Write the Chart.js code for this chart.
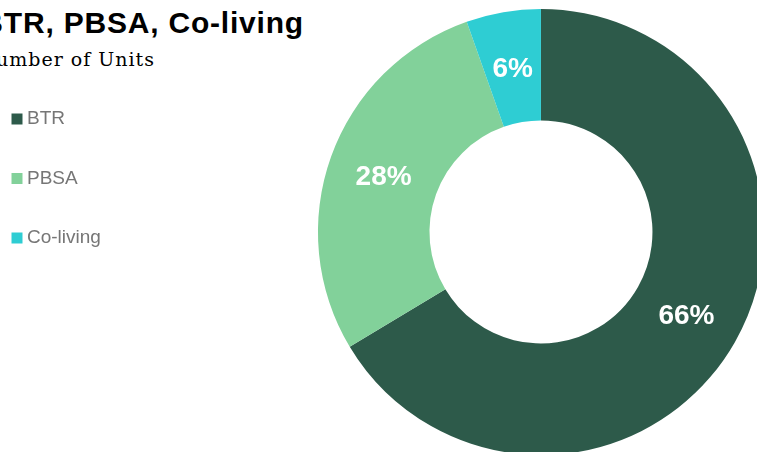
<!DOCTYPE html>
<html>
<head>
<meta charset="utf-8">
<script src="https://cdn.jsdelivr.net/npm/chart.js@4.4.1/dist/chart.umd.min.js"></script>
<style>
  html, body { margin: 0; padding: 0; width: 757px; height: 452px; overflow: hidden; background: #fff; }
  body { position: relative; }
  #title {
    position: absolute; right: 453px; top: 8px;
    font: bold 30px "Liberation Sans", Arial, sans-serif; line-height: 30px;
    letter-spacing: 0.8px; white-space: nowrap; color: #000;
  }
  #subtitle {
    position: absolute; right: 602px; top: 50px;
    font: 19px "DejaVu Serif", Georgia, serif; line-height: 19px;
    letter-spacing: 1px; white-space: nowrap; color: #000;
  }
  #wrap { position: absolute; left: -24px; top: 0; width: 995px; height: 455px; }
</style>
</head>
<body>
<div id="title">BTR, PBSA, Co-living</div>
<div id="subtitle">Number of Units</div>
<div id="wrap"><canvas id="myChart"></canvas></div>
<script>
const categories = ['BTR', 'PBSA', 'Co-living'];
const shares = [66.4, 28.2, 5.4];
const shareLabels = ['66%', '28%', '6%'];
const colors = ['#2D5A4A', '#82D19A', '#2ECDD3'];

// white percentage text in the middle of each slice
const sliceLabels = {
  id: 'sliceLabels',
  afterDatasetsDraw(chart) {
    const ctx = chart.ctx;
    const meta = chart.getDatasetMeta(0);
    ctx.save();
    ctx.font = 'bold 28px "Liberation Sans", Arial, sans-serif';
    ctx.fillStyle = '#fff';
    ctx.textAlign = 'center';
    ctx.textBaseline = 'middle';
    meta.data.forEach((arc, i) => {
      const p = arc.tooltipPosition();
      ctx.fillText(shareLabels[i], p.x, p.y + 2);
    });
    ctx.restore();
  }
};

const ctx = document.getElementById('myChart');
const myChart = new Chart(ctx, {
  type: 'doughnut',
  data: {
    labels: categories,
    datasets: [
      {
        data: shares,
        backgroundColor: colors,
        borderWidth: 0,
        hoverOffset: 0,
      },
    ],
  },
  options: {
    responsive: true,
    maintainAspectRatio: false,
    animation: false,
    cutout: '50%',
    layout: { padding: { top: 9, bottom: 0, left: 0, right: 0 } },
    plugins: {
      tooltip: { enabled: false },
      legend: {
        position: 'left',
        align: 'start',
        title: { display: true, text: '', font: { size: 10, lineHeight: 1 }, padding: { top: 50, bottom: 0 } },
        labels: {
          usePointStyle: true,
          pointStyle: 'rect',
          boxWidth: 1,
          boxHeight: 11,
          padding: 40.5,
          color: '#767676',
          font: { family: '"Liberation Sans", Arial, sans-serif', size: 19 },
        },
      },
    },
  },
  plugins: [sliceLabels],
});
</script>
</body>
</html>
